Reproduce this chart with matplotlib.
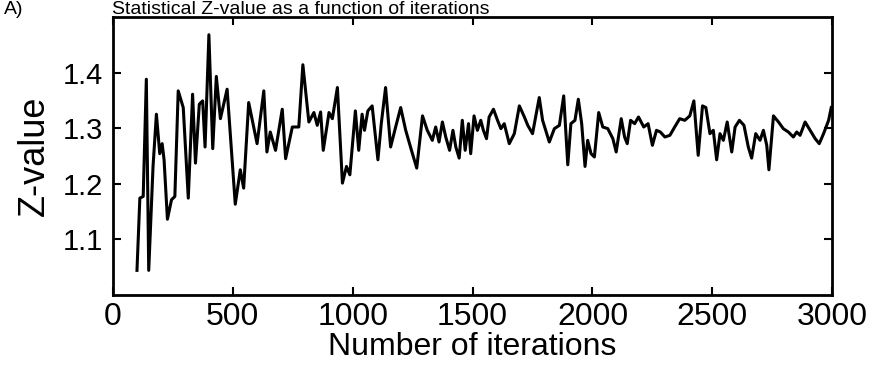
import matplotlib
matplotlib.use("Agg")
from matplotlib import pyplot as plt

plt.rcParams["font.family"] = ["Liberation Sans", "DejaVu Sans"]

# iteration counts and the Z-value
iterations = [
    100, 112, 126, 139, 149, 167, 181, 195, 205, 213, 227, 244, 258, 272, 293,
    314, 332, 344, 360, 374, 384, 400, 416, 431, 448, 476, 510, 531, 545, 566,
    601, 629, 642, 656, 678, 706, 720, 748, 775, 792, 817, 838, 852, 866, 877,
    901, 915, 936, 957, 974, 988, 1011, 1025, 1039, 1049, 1063, 1081, 1105,
    1119, 1137, 1158, 1179, 1200, 1221, 1245, 1267, 1291, 1311, 1332, 1346,
    1360, 1374, 1388, 1404, 1418, 1430, 1444, 1457, 1469, 1483, 1492, 1506,
    1520, 1534, 1545, 1558, 1569, 1587, 1604, 1618, 1632, 1653, 1674, 1695,
    1716, 1730, 1750, 1778, 1792, 1820, 1841, 1862, 1880, 1897, 1910, 1927,
    1941, 1955, 1969, 1980, 1994, 2008, 2026, 2043, 2064, 2085, 2099, 2120,
    2134, 2145, 2159, 2176, 2192, 2214, 2232, 2250, 2267, 2283, 2302, 2323,
    2343, 2364, 2385, 2406, 2423, 2441, 2459, 2473, 2490, 2504, 2518, 2532,
    2546, 2562, 2581, 2595, 2613, 2632, 2650, 2664, 2681, 2699, 2713, 2727,
    2736, 2755, 2776, 2796, 2817, 2838, 2852, 2866, 2887, 2908, 2929, 2946,
    2964, 2985, 2996,
]
z_value = [
    1.044, 1.174, 1.177, 1.388, 1.044, 1.231, 1.325, 1.254, 1.272, 1.243,
    1.136, 1.171, 1.177, 1.367, 1.337, 1.174, 1.361, 1.237, 1.343, 1.349,
    1.266, 1.468, 1.263, 1.393, 1.317, 1.370, 1.163, 1.225, 1.192, 1.346,
    1.272, 1.367, 1.257, 1.293, 1.260, 1.334, 1.245, 1.302, 1.302, 1.414,
    1.311, 1.328, 1.305, 1.329, 1.260, 1.328, 1.317, 1.373, 1.201, 1.231,
    1.216, 1.331, 1.260, 1.325, 1.296, 1.331, 1.340, 1.243, 1.308, 1.373,
    1.266, 1.302, 1.337, 1.296, 1.260, 1.228, 1.322, 1.296, 1.278, 1.302,
    1.275, 1.311, 1.284, 1.260, 1.296, 1.266, 1.246, 1.314, 1.260, 1.308,
    1.254, 1.322, 1.296, 1.314, 1.296, 1.281, 1.320, 1.334, 1.314, 1.299,
    1.308, 1.272, 1.290, 1.340, 1.320, 1.305, 1.290, 1.355, 1.314, 1.275,
    1.299, 1.305, 1.358, 1.234, 1.308, 1.314, 1.352, 1.308, 1.231, 1.278,
    1.254, 1.248, 1.328, 1.302, 1.299, 1.281, 1.257, 1.317, 1.284, 1.272,
    1.314, 1.308, 1.320, 1.302, 1.308, 1.269, 1.296, 1.293, 1.284, 1.287,
    1.302, 1.317, 1.314, 1.322, 1.349, 1.251, 1.340, 1.337, 1.290, 1.296,
    1.243, 1.290, 1.278, 1.311, 1.257, 1.302, 1.314, 1.305, 1.266, 1.246,
    1.290, 1.278, 1.296, 1.269, 1.225, 1.322, 1.311, 1.299, 1.293, 1.284,
    1.293, 1.287, 1.311, 1.296, 1.281, 1.272, 1.290, 1.314, 1.337,
]
x_ticks = [0, 500, 1000, 1500, 2000, 2500, 3000]
y_ticks = [1.1, 1.2, 1.3, 1.4]

fig = plt.figure(figsize=(8.76, 3.77), dpi=100)
ax = fig.add_axes([0.129, 0.218, 0.821, 0.737])

ax.plot(iterations, z_value, color="black", linewidth=2.2)
ax.set_xlim(0, 3000)
ax.set_ylim(1.0, 1.5)
ax.set_xticks(x_ticks)
ax.set_yticks(y_ticks)
ax.set_yticklabels([f"{v:.1f}" for v in y_ticks])
ax.tick_params(direction="in", top=True, right=True, length=6, width=1.5)
ax.tick_params(axis="x", labelsize=23, pad=5)
ax.tick_params(axis="y", labelsize=21, pad=7)
for side in ax.spines.values():
    side.set_linewidth(2)
ax.set_xlabel("Number of iterations", fontsize=23, labelpad=0)
ax.set_ylabel("Z-value", fontsize=26, labelpad=8)

# panel title along the top edge
fig.text(0.005, 0.998, "A)", fontsize=14, va="top")
fig.text(0.128, 0.998, "Statistical Z-value as a function of iterations",
         fontsize=14, va="top")

fig.savefig("out.png", dpi=100)
